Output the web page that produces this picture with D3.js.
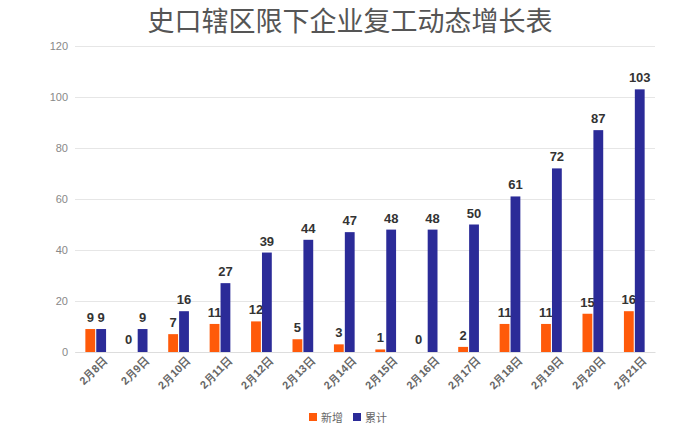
<!DOCTYPE html>
<html><head><meta charset="utf-8">
<script src="https://cdn.jsdelivr.net/npm/d3@7"></script>
<style>body{margin:0;background:#fff;}svg{display:block;font-family:"Noto Sans CJK SC","Noto Sans",sans-serif;}</style>
</head><body>
<svg id="c" width="700" height="430"></svg>
<script>
const categories = ["2月8日","2月9日","2月10日","2月11日","2月12日","2月13日","2月14日","2月15日","2月16日","2月17日","2月18日","2月19日","2月20日","2月21日"];
const seriesNames = ["新增","累计"];
const newValues = [9,0,7,11,12,5,3,1,0,2,11,11,15,16];
const totalValues = [9,9,16,27,39,44,47,48,48,50,61,72,87,103];
const yTicks = [0,20,40,60,80,100,120];
const colors = ["#ff5a0a","#2b2b98"];
const title = "史口辖区限下企业复工动态增长表";

const svg = d3.select("#c");
const m = {l:75, r:45, t:46, b:78};
const W = 700, H = 430;
const x = d3.scaleBand().domain(categories).range([m.l, W-m.r]).paddingInner(0.5).paddingOuter(0.25);
const xs = d3.scaleBand().domain(seriesNames).range([0, x.bandwidth()]).paddingInner(0.1);
const y = d3.scaleLinear().domain([0,120]).range([H-m.b, m.t]);

svg.append("text").attr("x",350).attr("y",31).attr("text-anchor","middle")
  .attr("font-size",27).attr("fill","#555").text(title);

const yAxis = svg.append("g").attr("transform",`translate(${m.l},0)`)
  .call(d3.axisLeft(y).tickValues(yTicks).tickSize(-(W-m.l-m.r)).tickPadding(7));
yAxis.select(".domain").remove();
yAxis.selectAll("line").attr("stroke","#e6e6e6");
yAxis.selectAll("text").attr("fill","#888").attr("font-size",11).attr("font-family","Arial, Liberation Sans, sans-serif");

const xAxis = svg.append("g").attr("transform",`translate(0,${H-m.b})`)
  .call(d3.axisBottom(x).tickSize(0).tickPadding(10));
xAxis.select(".domain").attr("stroke","#ddd");
xAxis.selectAll("text").attr("fill","#666").attr("font-size",11).attr("font-weight","bold")
  .attr("text-anchor","end").attr("dx","0.2em").attr("dy","0.5em")
  .attr("transform","rotate(-45)");

const data = categories.map((c,i)=>({c, vals:[newValues[i], totalValues[i]]}));
const g = svg.selectAll(".grp").data(data).join("g").attr("transform",d=>`translate(${x(d.c)},0)`);
g.selectAll("rect").data(d=>d.vals.map((v,j)=>({v, s:seriesNames[j], j})))
  .join("rect").attr("x",d=>xs(d.s)).attr("width",xs.bandwidth())
  .attr("y",d=>y(d.v)).attr("height",d=>y(0)-y(d.v)).attr("fill",d=>colors[d.j]);
g.selectAll(".lbl").data(d=>d.vals.map((v,j)=>({v, s:seriesNames[j], j})))
  .join("text").attr("class","lbl")
  .attr("x",d=>xs(d.s)+xs.bandwidth()/2 - (d.v===0?3:0)).attr("y",d=>y(d.v)- (d.v===0?8:7))
  .attr("text-anchor","middle").attr("font-size",13).attr("font-weight","bold")
  .attr("font-family","Arial, Liberation Sans, sans-serif").attr("fill","#333").text(d=>d.v);

const lg = svg.append("g").attr("transform","translate(0,418)");
const litems = [{n:seriesNames[0],x:309,c:colors[0]},{n:seriesNames[1],x:353,c:colors[1]}];
litems.forEach(it=>{
  lg.append("rect").attr("x",it.x).attr("y",-5).attr("width",8).attr("height",8).attr("fill",it.c);
  lg.append("text").attr("x",it.x+12).attr("y",4).attr("font-size",11).attr("fill","#666").text(it.n);
});
</script>
</body></html>
